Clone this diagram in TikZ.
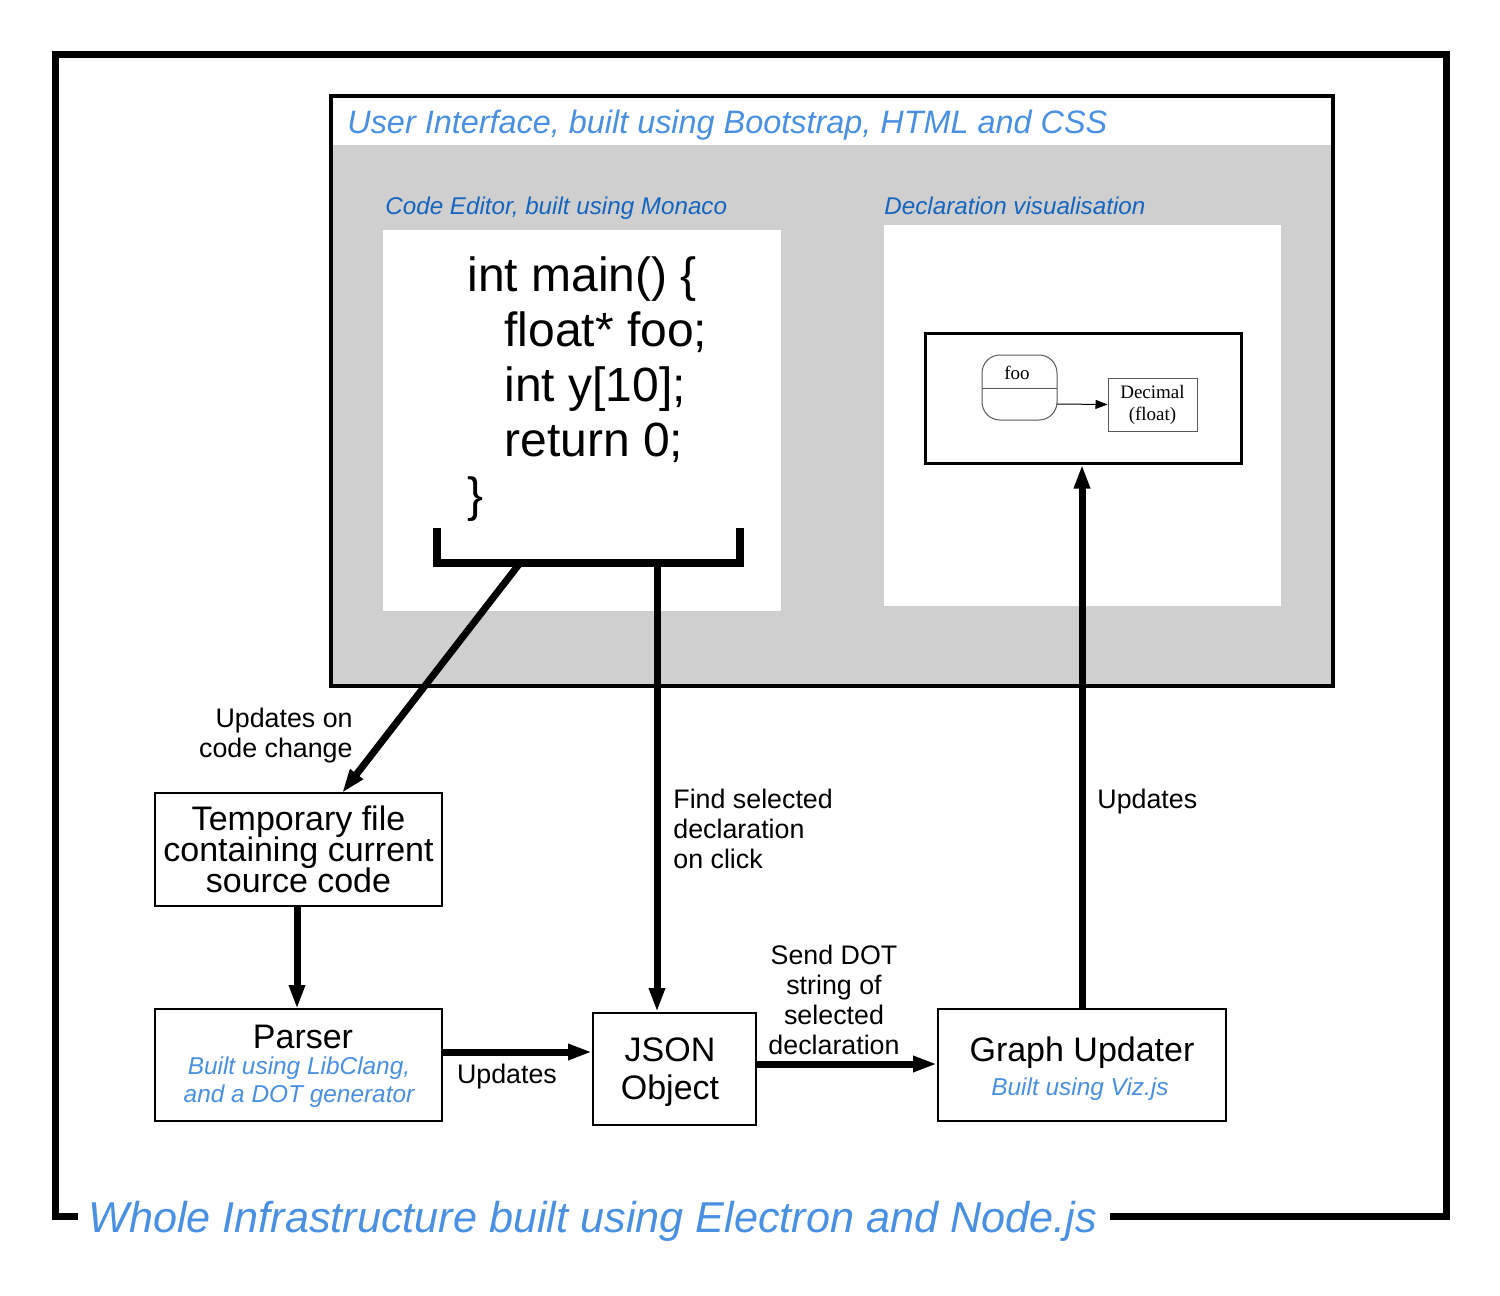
\documentclass[tikz,border=0pt]{standalone}
\usepackage{fontspec}
\setmainfont{Liberation Sans}
\newfontfamily\serifdot{Liberation Serif}
\usetikzlibrary{arrows.meta}
\definecolor{lblue}{HTML}{4A90E2}
\definecolor{dblue}{HTML}{1565C0}
\definecolor{panelgray}{HTML}{CFCFCF}
\newcommand\tightlines{\lineskiplimit -20pt\relax}
\begin{document}
\begin{tikzpicture}[x=0.5pt,y=-0.5pt,
  thickarrow/.style={line width=3.5pt,-{Triangle[length=12pt,width=7.5pt]}},
  boxnode/.style={draw,line width=1pt,fill=white,inner sep=0pt,align=center},
  lbl/.style={font=\fontsize{13.4}{15}\selectfont,inner sep=0pt},
  bluelbl/.style={font=\fontsize{12.2}{14}\selectfont\itshape,text=lblue,inner sep=0pt},
  mainlbl/.style={font={\fontsize{17}{15.5}\selectfont\tightlines},inner sep=0pt}]
\useasboundingbox (0,0) rectangle (1500,1296);
% outer frame
\coordinate (fbl) at (55,1216);
\coordinate (fbr) at (1446,1216);
\coordinate (ftl) at (55,54);
\coordinate (ftr) at (1446,54);
\node[anchor=base west,inner sep=0pt,font=\fontsize{21.6}{24}\selectfont\itshape,text=lblue] (whole) at (88,1232) {Whole Infrastructure built using Electron and Node.js};
\draw[line width=3.5pt] (78,1216) -- (fbl) -- (ftl) -- (ftr) -- (fbr) -- (1110,1216);
% UI panel
\fill[panelgray] (331,145) rectangle (1333,686);
\draw[line width=1.6pt] (331,96) rectangle (1333,686);
\node[anchor=base west,inner sep=0pt,font=\fontsize{16.2}{18}\selectfont\itshape,text=lblue] (uititle) at (347,133) {User Interface, built using Bootstrap, HTML and CSS};
% code editor
\node[anchor=base west,inner sep=0pt,font=\fontsize{12.1}{14}\selectfont\itshape,text=dblue] (cetitle) at (385,214) {Code Editor, built using Monaco};
\fill[white] (383,230) rectangle (781,611);
\node[anchor=north west,inner sep=0pt,align=left,font=\fontsize{24}{27.5}\selectfont] (code) at (467,256) {int main() \{\\
\hspace*{18.5pt}float* foo;\\
\hspace*{18.5pt}int y[10];\\
\hspace*{18.5pt}return 0;\\
\}};
\coordinate (bkl) at (437,528);
\coordinate (bkr) at (740,528);
\coordinate (bkbl) at (437,563);
\coordinate (bkbr) at (740,563);
\coordinate (br1) at (520,563);
\coordinate (br2) at (657,563);
\draw[line width=4pt] (bkl) -- (bkbl) -- (bkbr) -- (bkr);
% declaration visualisation
\node[anchor=base west,inner sep=0pt,font=\fontsize{12.1}{14}\selectfont\itshape,text=dblue] (dvtitle) at (884,214) {Declaration visualisation};
\fill[white] (884,225) rectangle (1281,606);
\node[draw,line width=1.5pt,minimum width=158pt,minimum height=65pt,inner sep=0pt] (graph) at (1083,398) {};
\draw[gray!70!black,line width=0.5pt,rounded corners=9pt] (982,355) rectangle (1057,420);
\coordinate (fooR) at (1057,404);
\draw[gray!70!black,line width=0.5pt] (982,388) -- (1057,388);
\node[inner sep=0pt,font=\serifdot\fontsize{9.5}{11}\selectfont] (foo) at (1017,373) {foo};
\node[draw=gray!70!black,line width=0.5pt,inner sep=0pt,minimum width=44.5pt,minimum height=26.5pt,align=center,font=\serifdot\fontsize{9.5}{11}\selectfont] (dec) at (1152.5,404.5) {Decimal\\(float)};
\draw[line width=0.5pt,-{Triangle[length=6pt,width=4.5pt]}] (fooR) -- (dec.west);
% lower boxes
\node[boxnode,mainlbl,minimum width=143.5pt,minimum height=56.5pt] (temp) at (298.5,849.5) {Temporary file\\containing current\\source code};
\node[boxnode,minimum width=143.5pt,minimum height=56pt] (parser) at (298.5,1065) {};
\node[mainlbl,anchor=base] (parsert) at (303,1048) {Parser};
\node[bluelbl,anchor=north,align=center] (parsers) at (299,1056) {Built using LibClang,\\and a DOT generator};
\node[boxnode,minimum width=81.5pt,minimum height=56pt] (json) at (674.5,1069) {};
\node[font=\fontsize{17}{19}\selectfont,inner sep=0pt,align=center] (jsont) at (670,1072) {JSON\\Object};
\node[boxnode,minimum width=144pt,minimum height=56pt] (gu) at (1082,1065) {};
\node[mainlbl,anchor=base] (gut) at (1082,1061) {Graph Updater};
\node[bluelbl,anchor=base] (gus) at (1080,1095) {Built using Viz.js};
% connectors
\coordinate (tempin) at (342,793);
\draw[thickarrow] (br1) -- (tempin);
\draw[thickarrow] (br2) -- (br2 |- json.north);
\draw[thickarrow] (temp.south -| 297,0) -- (297,1009);
\draw[thickarrow] (parser.east |- 0,1052) -- (json.west |- 0,1052);
\draw[thickarrow] (json.east |- 0,1064) -- (gu.west |- 0,1064);
\draw[thickarrow] (gu.north) -- (graph.south -| gu.north);
% labels
\node[lbl,anchor=north east,align=right] (l1) at (353,708) {Updates on\\code change};
\node[lbl,anchor=north west,align=left] (l2) at (673,789) {Find selected\\declaration\\on click};
\node[lbl,anchor=north west] (l3) at (1097,789) {Updates};
\node[lbl,anchor=north] (l4) at (507,1064) {Updates};
\node[lbl,anchor=north,align=center] (l5) at (834,945) {Send DOT\\string of\\selected\\declaration};
\end{tikzpicture}
\end{document}
